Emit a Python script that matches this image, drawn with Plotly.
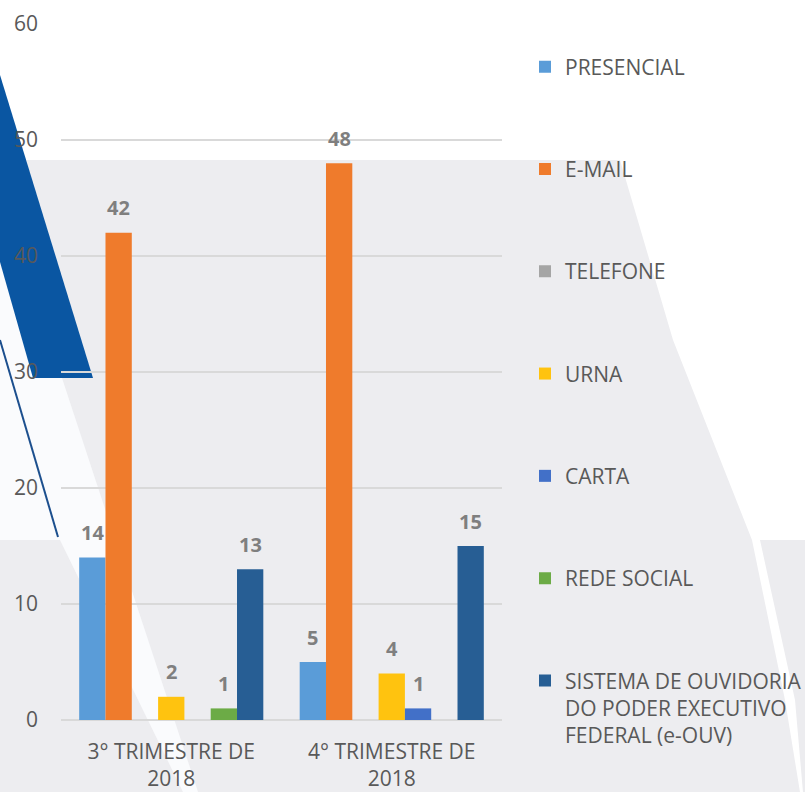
import plotly.graph_objects as go

# ---- data ----
categories = ["3° TRIMESTRE DE<br>2018", "4° TRIMESTRE DE<br>2018"]
series_names = [
    "PRESENCIAL",
    "E-MAIL",
    "TELEFONE",
    "URNA",
    "CARTA",
    "REDE SOCIAL",
    "SISTEMA DE OUVIDORIA<br>DO PODER EXECUTIVO<br>FEDERAL (e-OUV)",
]
presencial = [14, 5]
email = [42, 48]
telefone = [0, 0]
urna = [2, 4]
carta = [0, 1]
rede_social = [1, 0]
sistema = [13, 15]
series_values = [presencial, email, telefone, urna, carta, rede_social, sistema]
y_ticks = [0, 10, 20, 30, 40, 50, 60]

# ---- style ----
colors = ["#5a9cd8", "#ef7b2c", "#a5a5a5", "#ffc30f", "#4270c8", "#6cab46", "#275e94"]
FONT = "Open Sans"
TXT = "#595959"
FS = 21

W, H = 805, 792
ML, MR, MT, MB = 61, 303, 24, 72
PW, PH = W - ML - MR, H - MT - MB
BARGAP = 0.165

def px(x):
    return (x - ML) / PW

def py(y):
    return (H - MB - y) / PH

def path(points):
    return "M " + " L ".join(f"{px(a):.4f},{py(b):.4f}" for a, b in points) + " Z"

xpos = list(range(len(categories)))
fig = go.Figure()
for name, vals, col in zip(series_names, series_values, colors):
    fig.add_trace(go.Bar(
        x=xpos, y=vals, name=name, marker=dict(color=col, line=dict(width=0)),
        legendgroup=name,
    ))

# data labels above bars
n = len(series_names)
bw = (1 - BARGAP) / n
annotations = []
for i, vals in enumerate(series_values):
    for j, v in enumerate(vals):
        if v:
            annotations.append(dict(
                x=xpos[j] + (i - (n - 1) / 2) * bw, y=v, xref="x", yref="y",
                text=f"<b>{v}</b>", showarrow=False, yanchor="middle", yshift=25,
                font=dict(family=FONT, size=20, color="#7f7f7f"),
            ))

# decorative background shapes
shapes = [
    dict(type="path", xref="paper", yref="paper", layer="below", line=dict(width=0),
         fillcolor="#ededf0",
         path=path([(0, 160), (620, 160), (673, 340), (752, 540), (785, 700), (800, 792), (0, 792)])),
    dict(type="path", xref="paper", yref="paper", layer="below", line=dict(width=0),
         fillcolor="#ececef",
         path=path([(760, 540), (805, 540), (805, 792), (803, 792), (795, 700)])),
    dict(type="path", xref="paper", yref="paper", layer="below", line=dict(width=0),
         fillcolor="#fafbfd",
         path=path([(0, 250), (40, 378), (62, 378), (198, 792), (183, 792), (60, 540), (0, 540)])),
    dict(type="path", xref="paper", yref="paper", layer="below", line=dict(width=0),
         fillcolor="#0a56a2",
         path=path([(0, 75), (0, 262), (33, 378), (93, 378)])),
    dict(type="line", xref="paper", yref="paper", layer="below",
         x0=px(0), y0=py(340), x1=px(58), y1=py(537),
         line=dict(color="#1c4f8e", width=2)),
]

fig.update_layout(
    width=W, height=H,
    margin=dict(l=ML, r=MR, t=MT, b=MB, pad=0, autoexpand=False),
    paper_bgcolor="white", plot_bgcolor="rgba(0,0,0,0)",
    barmode="group", bargap=BARGAP, bargroupgap=0,
    font=dict(family=FONT, size=FS, color=TXT),
    shapes=shapes, annotations=annotations,
    legend=dict(
        x=px(525), y=py(46.5), xanchor="left", yanchor="top",
        traceorder="grouped", tracegroupgap=72, valign="top",
        font=dict(family=FONT, size=FS, color=TXT),
        bgcolor="rgba(0,0,0,0)", itemwidth=30, maxheight=790,
    ),
    xaxis=dict(
        tickmode="array", tickvals=xpos, ticktext=categories, range=[-0.5, len(categories) - 0.5],
        showgrid=False, zeroline=False, showline=False, ticks="", automargin=False,
        tickfont=dict(family=FONT, size=FS, color=TXT), ticklabelstandoff=17,
    ),
    yaxis=dict(
        range=[0, 60], tickmode="array", tickvals=y_ticks, automargin=False,
        showgrid=True, gridcolor="#d9d9d9", gridwidth=1.5,
        zeroline=True, zerolinecolor="#d9d9d9", zerolinewidth=2,
        showline=False, ticks="", ticklabelstandoff=22,
        tickfont=dict(family=FONT, size=FS, color=TXT),
    ),
)

fig.write_html("out.html")
